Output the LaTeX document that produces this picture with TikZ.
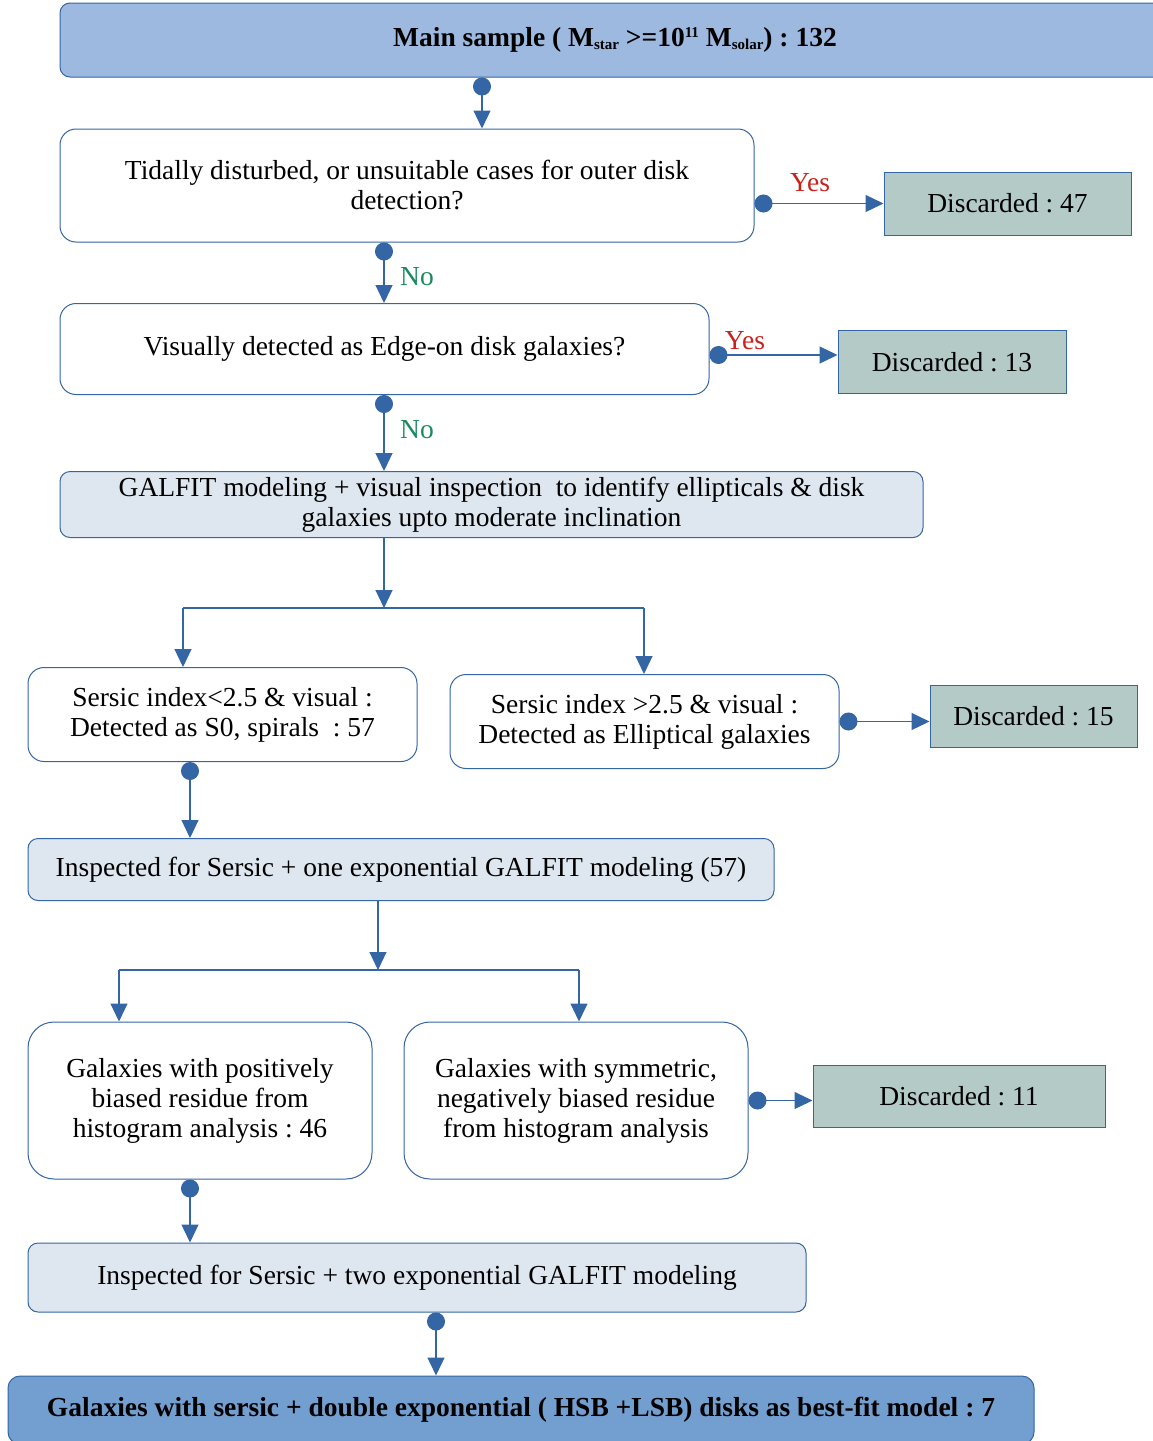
\documentclass[tikz,border=0pt]{standalone}
\usepackage{fontspec}
\setmainfont{Liberation Serif}
\usetikzlibrary{arrows.meta}
\definecolor{lineblue}{HTML}{3465A4}
\definecolor{mainfill}{HTML}{9DB9DF}
\definecolor{lightfill}{HTML}{DEE6EF}
\definecolor{discfill}{HTML}{B3CAC7}
\definecolor{finalfill}{HTML}{729FCF}
\definecolor{yesred}{HTML}{C9211E}
\definecolor{nogreen}{HTML}{1A8A5F}
\newcommand{\mysub}[1]{\raisebox{-3pt}{\fontsize{15}{15}\selectfont #1}}
\newcommand{\mysup}[1]{\raisebox{9pt}{\fontsize{15}{15}\selectfont #1}}
\begin{document}
\frenchspacing
\begin{tikzpicture}[x=1pt,y=-1pt,
  every node/.style={font=\fontsize{27.5}{30}\selectfont, align=center, inner sep=0pt},
  box/.style={draw=lineblue, line width=1pt, rounded corners=16pt, fill=white},
  lightbox/.style={draw=lineblue, line width=1pt, rounded corners=10pt, fill=lightfill},
  discbox/.style={draw=lineblue, line width=1pt, fill=discfill},
  mainbox/.style={draw=lineblue, line width=1pt, rounded corners=10pt, fill=mainfill, font=\fontsize{27.5}{30}\selectfont\bfseries},
  finalbox/.style={draw=lineblue, line width=1pt, rounded corners=12pt, fill=finalfill, font=\fontsize{27.5}{30}\selectfont\bfseries},
  conn/.style={draw=lineblue, line width=1.2pt, {Circle[length=18pt,width=18pt]}-{Triangle[length=18pt,width=17pt]}},
  plain/.style={draw=lineblue, line width=1.2pt, -{Triangle[length=18pt,width=17pt]}},
  bare/.style={draw=lineblue, line width=1.2pt},
  yeslab/.style={text=yesred},
  nolab/.style={text=nogreen}
]
\clip (0,0) rectangle (1153,1441);
\useasboundingbox (0,0) rectangle (1153,1441);

% nodes
\node[mainbox, minimum width=1110, minimum height=74] (main) at (615,40)
  {\raisebox{-2pt}{Main sample ( M\mysub{star} >=10\mysup{11} M\mysub{solar}) : 132}};
\node[box, minimum width=694, minimum height=113] (b2) at (407,185.5)
  {Tidally disturbed, or unsuitable cases for outer disk\\detection?};
\node[discbox, minimum width=247, minimum height=63] (d47) at (1007.5,203.5) {Discarded : 47};
\node[box, minimum width=649, minimum height=91] (b3) at (384.5,349)
  {Visually detected as Edge-on disk galaxies?};
\node[discbox, minimum width=228, minimum height=63] (d13) at (952,362) {Discarded : 13};
\node[lightbox, minimum width=863, minimum height=66] (b4) at (491.5,504.5)
  {GALFIT modeling + visual inspection\ \ to identify ellipticals \& disk\\galaxies upto moderate inclination};
\node[box, minimum width=389, minimum height=94] (b5a) at (222.5,714.5)
  {Sersic index<2.5 \& visual :\\Detected as S0, spirals\ \ : 57};
\node[box, minimum width=389, minimum height=94] (b5b) at (644.5,721.5)
  {Sersic index >2.5 \& visual :\\Detected as Elliptical galaxies};
\node[discbox, minimum width=207, minimum height=62] (d15) at (1033.5,716.5) {Discarded : 15};
\node[lightbox, minimum width=746, minimum height=62] (b6) at (401,869.5)
  {Inspected for Sersic + one exponential GALFIT modeling (57)};
\node[box, rounded corners=26pt, minimum width=344, minimum height=157] (b7a) at (200,1100.5)
  {Galaxies with positively\\biased residue from\\histogram analysis : 46};
\node[box, rounded corners=26pt, minimum width=344, minimum height=157] (b7b) at (576,1100.5)
  {Galaxies with symmetric,\\negatively biased residue\\from histogram analysis};
\node[discbox, minimum width=292, minimum height=62] (d11) at (959,1096.5) {Discarded : 11};
\node[lightbox, minimum width=778, minimum height=69] (b8) at (417,1277.5)
  {Inspected for Sersic + two exponential GALFIT modeling};
\node[finalbox, minimum width=1026, minimum height=68] (b9) at (521,1410)
  {\raisebox{-2pt}{Galaxies with sersic + double exponential ( HSB +LSB) disks as best-fit model : 7}};

% labels
\node[yeslab] (y1) at (810,183) {Yes};
\node[yeslab] (y2) at (745,341) {Yes};
\node[nolab] (n1) at (417,277) {No};
\node[nolab] (n2) at (417,430) {No};

% helper coordinates
\coordinate (x482) at (482,0);
\coordinate (x384) at (384,0);
\coordinate (x190) at (190,0);
\coordinate (x436) at (436,0);
\coordinate (y355) at (0,355);
\coordinate (j1) at (384,608);
\coordinate (j1l) at (183,608);
\coordinate (j1r) at (644,608);
\coordinate (j2) at (378,970);
\coordinate (j2l) at (119,970);
\coordinate (j2r) at (579,970);

% connectors
\draw[conn] (main.south -| x482) -- (b2.north -| x482);
\draw[conn] (b2.east |- d47.west) -- (d47.west);
\draw[conn] (b2.south -| x384) -- (b3.north -| x384);
\draw[conn] (b3.east |- y355) -- (d13.west |- y355);
\draw[conn] (b3.south -| x384) -- (b4.north -| x384);
\draw[plain] (b4.south -| j1) -- (j1);
\draw[bare] (j1l) -- (j1r);
\draw[plain] (j1l) -- (b5a.north -| j1l);
\draw[plain] (j1r) -- (b5b.north -| j1r);
\draw[conn] (b5b.east) -- (d15.west |- b5b.east);
\draw[conn] (b5a.south -| x190) -- (b6.north -| x190);
\draw[plain] (b6.south -| j2) -- (j2);
\draw[bare] (j2l) -- (j2r);
\draw[plain] (j2l) -- (b7a.north -| j2l);
\draw[plain] (j2r) -- (b7b.north -| j2r);
\draw[conn] (b7b.east) -- (d11.west |- b7b.east);
\draw[conn] (b7a.south -| x190) -- (b8.north -| x190);
\draw[conn] (b8.south -| x436) -- (b9.north -| x436);
\end{tikzpicture}
\end{document}
